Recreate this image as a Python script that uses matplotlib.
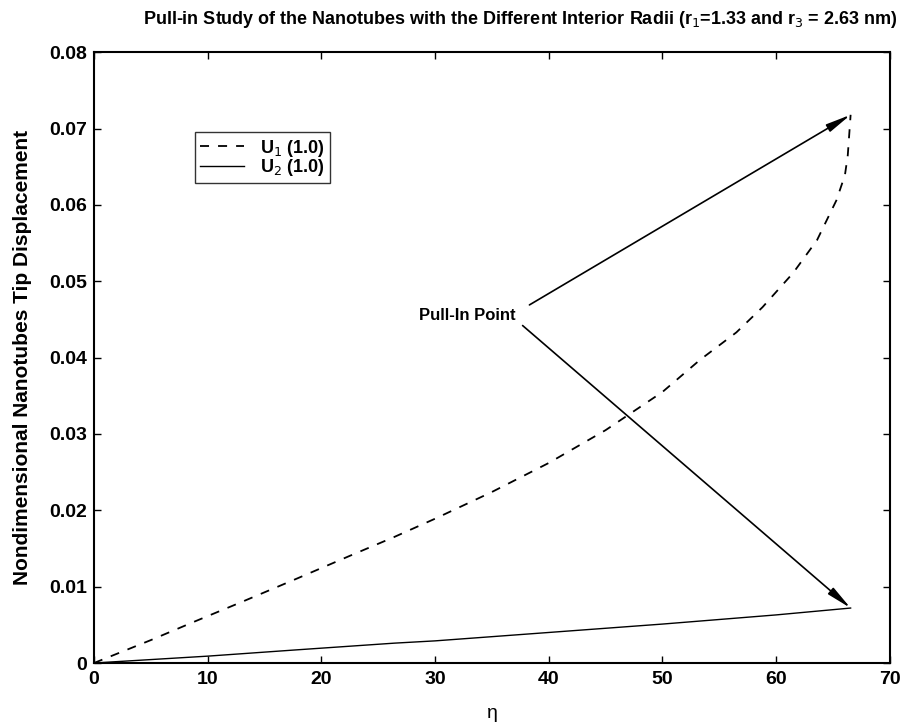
import numpy as np
import matplotlib
matplotlib.use('Agg')
import matplotlib.pyplot as plt

# Data
eta_u1 = [0, 5, 8.8, 13, 17.6, 22.6, 26.4, 30, 35, 40, 45, 50, 53.3, 56.5,
          58.8, 61.5, 63.6, 65.3, 66.05, 66.3, 66.55]
u1 = [0, 0.0030, 0.0054, 0.0080, 0.0109, 0.0141, 0.0165, 0.0189, 0.0224,
      0.0262, 0.0305, 0.0355, 0.0397, 0.0433, 0.0466, 0.0511, 0.0554,
      0.0606, 0.0639, 0.0665, 0.0718]

eta_u2 = [0, 10, 17.6, 26.4, 30, 40, 50, 60, 66.55]
u2 = [0, 0.0009, 0.0017, 0.0026, 0.0029, 0.0040, 0.0051, 0.0063, 0.0072]

pull_in_label = 'Pull-In Point'
label_pos = (32.8, 0.0455)
arrow_starts = [(38.3, 0.0469), (37.7, 0.0442)]
pull_in_points = [(eta_u1[-1], u1[-1]), (eta_u2[-1], u2[-1])]

plt.rcParams['font.family'] = ['Liberation Sans', 'DejaVu Sans']

fig = plt.figure(figsize=(9.08, 7.25), dpi=100)
ax = fig.add_axes([0.1035, 0.0855, 0.8765, 0.8425])

ax.plot(eta_u1, u1, color='black', linestyle=(0, (5, 5)), linewidth=1.3,
        label='U$_1$ (1.0)')
ax.plot(eta_u2, u2, color='black', linestyle='-', linewidth=1.0,
        label='U$_2$ (1.0)')

ax.text(label_pos[0], label_pos[1], pull_in_label, ha='center', va='center',
        fontsize=12, fontweight='bold')
for start, end in zip(arrow_starts, pull_in_points):
    ax.annotate('', xy=end, xytext=start,
                arrowprops=dict(arrowstyle='-|>,head_length=1.5,head_width=0.25',
                                color='black', lw=1.2, shrinkA=0, shrinkB=0))

ax.set_xlim(0, 70)
ax.set_ylim(0, 0.08)
ax.set_xticks(np.arange(0, 71, 10))
ax.set_yticks(np.arange(0, 0.081, 0.01))
ax.set_yticklabels(['0', '0.01', '0.02', '0.03', '0.04', '0.05', '0.06', '0.07', '0.08'])
ax.tick_params(direction='in', length=5, width=1, top=True, right=True,
               labelsize=14)
ax.tick_params(axis='x', pad=6)
ax.tick_params(axis='y', pad=5)
for lab in ax.get_xticklabels() + ax.get_yticklabels():
    lab.set_fontweight('bold')
for sp in ax.spines.values():
    sp.set_linewidth(1.5)

ax.set_xlabel('η', fontsize=14, labelpad=12)
ax.set_ylabel('Nondimensional Nanotubes Tip Displacement', fontsize=15,
              fontweight='bold', labelpad=12)
ax.set_title('Pull-in Study of the Nanotubes with the Different Interior Radii '
             '(r$_1$=1.33 and r$_3$ = 2.63 nm)', fontsize=13, fontweight='bold',
             x=0.535, pad=20)

leg = ax.legend(loc='upper left', bbox_to_anchor=(0.127, 0.869),
                frameon=True, fancybox=False, edgecolor='black',
                handlelength=2.4, labelspacing=-0.1, borderpad=0.3,
                borderaxespad=0, handletextpad=0.9,
                prop={'weight': 'bold', 'size': 13})
leg.get_frame().set_linewidth(1.0)

fig.savefig('out.png', dpi=100)
